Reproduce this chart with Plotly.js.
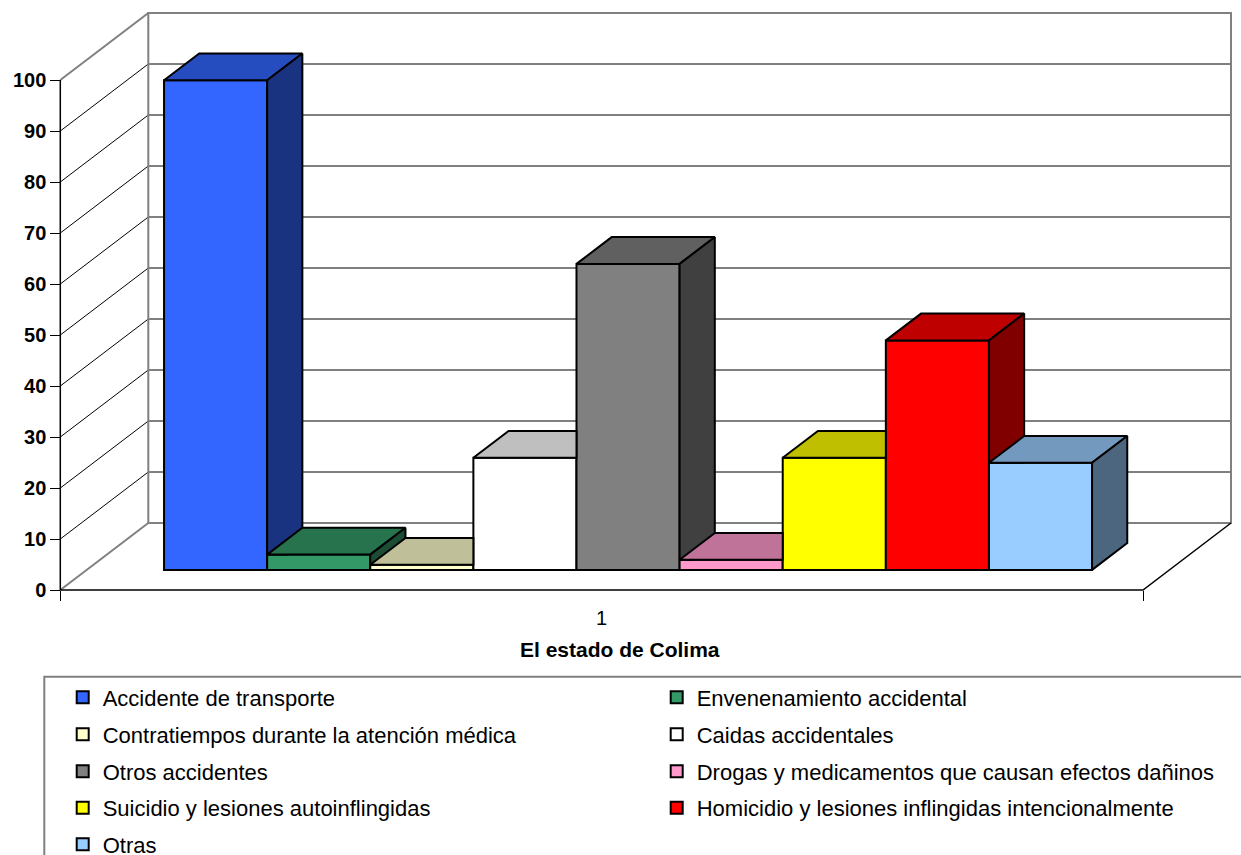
<!DOCTYPE html>
<html>
<head>
<meta charset="utf-8">
<script src="https://cdn.plot.ly/plotly-3.0.1.min.js"></script>
<style>html,body{margin:0;padding:0;background:#fff}</style>
</head>
<body>
<div id="chart" style="width:1241px;height:855px"></div>
<script>
// ---------------- data ----------------
const categories = ['1'];
const axisTitle = 'El estado de Colima';
const seriesNames = [
  'Accidente de transporte',
  'Envenenamiento accidental',
  'Contratiempos durante la atención médica',
  'Caidas accidentales',
  'Otros accidentes',
  'Drogas y medicamentos que causan efectos dañinos',
  'Suicidio y lesiones autoinflingidas',
  'Homicidio y lesiones inflingidas intencionalmente',
  'Otras'
];
const seriesValues = [96, 3, 1, 22, 60, 2, 22, 45, 21];
const seriesColors = ['#3366FF', '#339966', '#FFFFCC', '#FFFFFF', '#808080', '#FF99CC', '#FFFF00', '#FF0000', '#99CCFF'];
const yTicks = [0, 10, 20, 30, 40, 50, 60, 70, 80, 90, 100];

// ---------------- geometry / style ----------------
const FONT = 'Liberation Sans, Arial, sans-serif';
const PL = 50, PR = 1238, PT = 8, PB = 600;          // plot area in px
const X0PX = 60.3, Y0PX = 590;                       // px of front floor corner
const PXX = 1082.7, PXY = 5.1;                       // px per category unit / per value unit
const xRange = [0.5 - (X0PX - PL) / PXX, 0.5 + (PR - X0PX) / PXX];
const yRange = [-(PB - Y0PX) / PXY, (Y0PX - PT) / PXY];
const DX = 88 / PXX, DY = 67 / PXY;                  // full depth offset
const F1 = 0.3, F2 = 0.7;                            // bar front / back depth fraction
const GAP = 1.5;                                     // gap width (in bar widths)
const n = seriesValues.length;
const bw = 1 / (n + GAP);
const yMax = yTicks[yTicks.length - 1];

function shade(hex, k) {
  const r = parseInt(hex.slice(1, 3), 16), g = parseInt(hex.slice(3, 5), 16), b = parseInt(hex.slice(5, 7), 16);
  return 'rgb(' + Math.round(r * k) + ',' + Math.round(g * k) + ',' + Math.round(b * k) + ')';
}
function clip(poly, k, t, s) {
  const out = [];
  for (let i = 0; i < poly.length; i++) {
    const a = poly[i], b = poly[(i + 1) % poly.length];
    const fa = s * (a[k] - t), fb = s * (b[k] - t);
    if (fa >= 0) out.push(a);
    if ((fa >= 0) !== (fb >= 0)) {
      const r = fa / (fa - fb);
      out.push([a[0] + r * (b[0] - a[0]), a[1] + r * (b[1] - a[1])]);
    }
  }
  return out;
}
function area(poly) {
  let s = 0;
  for (let i = 0; i < poly.length; i++) {
    const a = poly[i], b = poly[(i + 1) % poly.length];
    s += (a[0] * PXX) * (b[1] * PXY) - (b[0] * PXX) * (a[1] * PXY);
  }
  return Math.abs(s / 2);
}
function polyTrace(pieces, color) {
  const xs = [], ys = [];
  pieces.forEach((p, j) => {
    if (j > 0) { xs.push(null); ys.push(null); }
    p.forEach(q => { xs.push(q[0]); ys.push(q[1]); });
    xs.push(p[0][0]); ys.push(p[0][1]);
  });
  return {type: 'scatter', mode: 'lines', x: xs, y: ys, fill: 'toself', fillcolor: color,
          line: {color: '#000', width: 2}, showlegend: false, hoverinfo: 'skip'};
}

const legendKey = i => (i === 0 ? 'legend' : 'legend' + (i + 1));
const base = F1 * DY;
const ddx = (F2 - F1) * DX, ddy = (F2 - F1) * DY;

const bars = [], faces = [];
for (let i = 0; i < n; i++) {
  const v = seriesValues[i];
  const xl = 0.5 + (GAP / 2 + i) * bw + F1 * DX, xr = xl + bw;
  bars.push({
    type: 'bar', name: seriesNames[i], x: [xl + bw / 2], y: [v], base: [base], width: [bw],
    marker: {color: seriesColors[i], line: {color: '#000', width: 2}},
    legend: legendKey(i), hovertemplate: seriesNames[i] + ': %{y}<extra></extra>'
  });
  const top = [[xl, base + v], [xl + ddx, base + v + ddy], [xr + ddx, base + v + ddy], [xr, base + v]];
  const side = [[xr, base], [xr, base + v], [xr + ddx, base + v + ddy], [xr + ddx, base + ddy]];
  let topPieces = [top], sidePieces = [side];
  if (i < n - 1) {
    const yn = base + seriesValues[i + 1];
    const right = clip(top, 0, xr, 1);
    const hidden = clip(right, 1, yn, -1);
    const vis = clip(right, 1, yn, 1);
    if (area(hidden) > 0.5) {
      const A = clip(top, 0, xr, -1);
      topPieces = area(vis) > 0.5 ? [A, vis] : [A];
    }
    const s = clip(side, 1, yn, 1);
    sidePieces = area(s) > 0.5 ? [s] : [];
  }
  faces.push(polyTrace(topPieces, shade(seriesColors[i], 0.75)));
  if (sidePieces.length) faces.push(polyTrace(sidePieces, shade(seriesColors[i], 0.5)));
}

// ---------------- walls, grid ----------------
const P = (x, y) => x + ',' + y;
const shapes = [];
yTicks.forEach(v => {
  if (v === 0 || v === yMax) return;
  shapes.push({type: 'path', xref: 'x', yref: 'y', layer: 'below',
    path: 'M' + P(0.5, v) + 'L' + P(0.5 + DX, v + DY) + 'L' + P(1.5 + DX, v + DY),
    line: {color: '#000', width: 1}});
});
const gray = {color: '#808080', width: 2};
shapes.push({type: 'path', xref: 'x', yref: 'y', layer: 'below', line: gray,
  path: 'M' + P(0.5, yMax) + 'L' + P(0.5 + DX, yMax + DY)});
shapes.push({type: 'path', xref: 'x', yref: 'y', layer: 'below', line: gray,
  path: 'M' + P(0.5, 0) + 'L' + P(0.5 + DX, DY)});
shapes.push({type: 'path', xref: 'x', yref: 'y', layer: 'below', line: gray,
  path: 'M' + P(0.5 + DX, DY) + 'L' + P(0.5 + DX, yMax + DY) + 'L' + P(1.5 + DX, yMax + DY) + 'L' + P(1.5 + DX, DY) + 'Z'});
shapes.push({type: 'path', xref: 'x', yref: 'y', layer: 'below', line: {color: '#000', width: 1.5},
  path: 'M' + P(0.5, yMax) + 'L' + P(0.5, 0) + 'L' + P(1.5, 0) + 'L' + P(1.5 + DX, DY)});
// legend frame
const PW = PR - PL, PH = PB - PT;
const px2x = p => (p - PL) / PW, px2y = p => 1 - (p - PT) / PH;
shapes.push({type: 'rect', xref: 'paper', yref: 'paper', x0: px2x(44.3), x1: px2x(1260), y0: px2y(676.7), y1: px2y(880),
  line: {color: '#808080', width: 2}, fillcolor: 'rgba(0,0,0,0)'});

// ---------------- legends (one per entry, two columns) ----------------
const rowY = [697.5, 734.5, 771.5, 808, 844.5];
const colX = [62.7, 656.7];
const layout = {
  width: 1241, height: 855,
  margin: {l: PL, r: 1241 - PR, t: PT, b: 855 - PB, autoexpand: false},
  paper_bgcolor: '#fff', plot_bgcolor: '#fff',
  barmode: 'overlay', showlegend: true, hovermode: 'closest',
  xaxis: {range: xRange, anchor: 'free', position: (PB - Y0PX) / PH,
    tickmode: 'array', tickvals: [1], ticktext: categories, ticks: '',
    ticklabelstandoff: 14,
    tickfont: {family: FONT, size: 20, color: '#000'},
    showline: false, showgrid: false, zeroline: false, fixedrange: true,
    minor: {tickmode: 'array', tickvals: [0.5, 1.5], ticks: 'outside', ticklen: 10, tickwidth: 1, tickcolor: '#000', showgrid: false}},
  yaxis: {range: yRange, anchor: 'free', position: (X0PX - PL) / PW,
    tickmode: 'array', tickvals: yTicks, ticks: 'outside', ticklen: 10, tickwidth: 1, tickcolor: '#000',
    tickfont: {family: FONT, size: 20, weight: 'bold', color: '#000'},
    showline: false, showgrid: false, zeroline: false, fixedrange: true},
  shapes: shapes,
  annotations: [{text: '<b>' + axisTitle + '</b>', xref: 'paper', yref: 'paper',
    x: px2x(620), y: px2y(649), xanchor: 'center', yanchor: 'middle', showarrow: false,
    font: {family: FONT, size: 21, color: '#000'}}]
};
for (let i = 0; i < n; i++) {
  layout[legendKey(i)] = {
    orientation: 'v', x: px2x(colX[i % 2]), y: px2y(rowY[Math.floor(i / 2)]), xanchor: 'left', yanchor: 'middle',
    bgcolor: 'rgba(0,0,0,0)', borderwidth: 0,
    font: {family: FONT, size: 22, color: '#000'}
  };
}

Plotly.newPlot('chart', bars.concat(faces), layout, {displayModeBar: false});
</script>
</body>
</html>
